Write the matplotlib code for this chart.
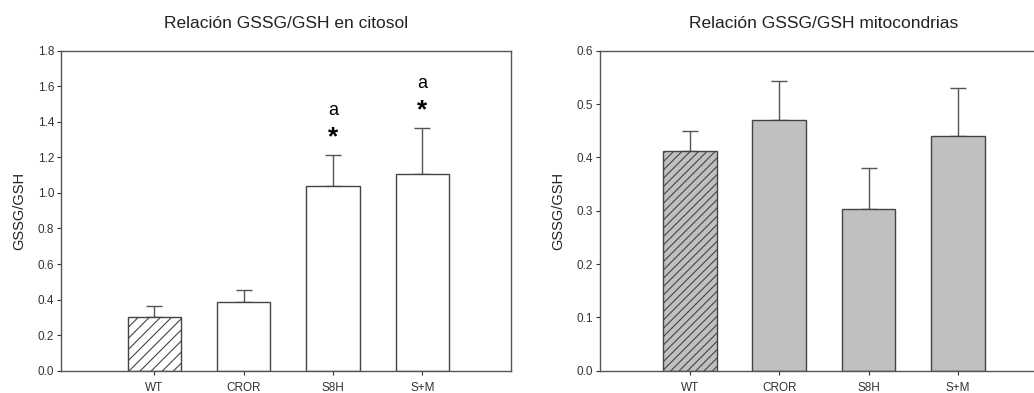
import numpy as np
import matplotlib
matplotlib.use('Agg')
import matplotlib.pyplot as plt

plt.rcParams['font.family'] = ['Liberation Sans', 'DejaVu Sans']
plt.rcParams['hatch.linewidth'] = 0.8

# data
groups = ['WT', 'CROR', 'S8H', 'S+M']
cito_mean = [0.30, 0.388, 1.037, 1.106]
cito_err = [0.064, 0.066, 0.174, 0.261]
mito_mean = [0.4125, 0.470, 0.303, 0.4395]
mito_err = [0.0365, 0.073, 0.078, 0.0905]
sig_groups = ['S8H', 'S+M']

edge = '#444444'
x = np.arange(len(groups))

fig = plt.figure(figsize=(10.34, 3.93), dpi=100)
ax1 = fig.add_axes([0.059, 0.0567, 0.435, 0.8143])
ax2 = fig.add_axes([0.580, 0.0567, 0.420, 0.8143])


def draw(ax, means, errs, face, hatch, title, ymax, step):
    ax.bar(x, means, width=0.6, color=face, edgecolor=edge, linewidth=1.0, zorder=2)
    ax.patches[0].set_hatch(hatch)
    ax.errorbar(x, means, yerr=[np.zeros(len(errs)), errs], fmt='none',
                ecolor='#555555', elinewidth=1.0, capsize=6, capthick=1.0, zorder=1)
    ax.set_ylim(0, ymax)
    ticks = np.arange(0, ymax + step / 2, step)
    ax.set_yticks(ticks)
    ax.set_yticklabels([f'{v:.1f}' for v in ticks])
    ax.set_xticks(x)
    ax.set_xticklabels(groups)
    ax.tick_params(axis='both', labelsize=8.5, colors='#333333', length=3,
                   width=0.8, direction='out', pad=2)
    ax.tick_params(axis='x', pad=5)
    for s in ax.spines.values():
        s.set_color('#555555')
        s.set_linewidth(1.0)
    ax.set_ylabel('GSSG/GSH', fontsize=10.5, color='#222222', labelpad=8)
    ax.set_title(title, fontsize=12.5, color='#222222', pad=16)


draw(ax1, cito_mean, cito_err, 'white', '///', 'Relación GSSG/GSH en citosol', 1.8, 0.2)
ax1.set_xlim(-1.045, 3.99)

draw(ax2, mito_mean, mito_err, '#c0c0c0', '////', 'Relación GSSG/GSH mitocondrias', 0.6, 0.1)
ax2.set_xlim(-1.008, 3.85)
ax2.spines['right'].set_visible(False)
ax2.title.set_position((0.515, 1.0))

# significance marks
for g in sig_groups:
    i = groups.index(g)
    top = cito_mean[i] + cito_err[i]
    ax1.text(i, top + 0.10, '*', ha='center', va='center', fontsize=19, fontweight='bold')
    ax1.text(i, top + 0.25, 'a', ha='center', va='center', fontsize=13)

fig.savefig('out.png', dpi=100)
